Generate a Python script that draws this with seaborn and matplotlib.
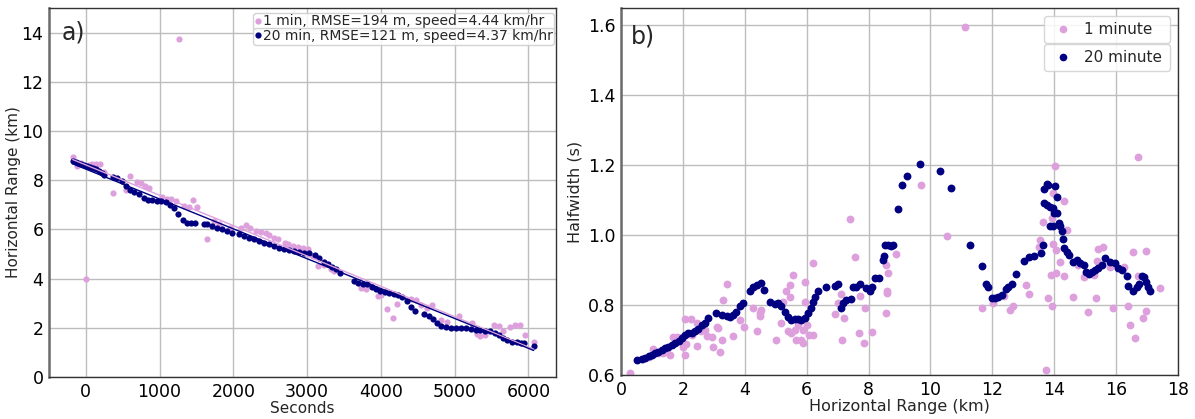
import numpy as np
import pandas as pd
import matplotlib
matplotlib.use("Agg")
import matplotlib.pyplot as plt
import seaborn as sns
from matplotlib.lines import Line2D

# ---------------- panel a) range vs time ----------------
t_1min = [-177, -114, -60, 0, 40, 82, 141, 186, 250, 368, 550, 605, 695, 741, 795, 850,
          1036, 1095, 1150, 1218, 1265, 1332, 1400, 1455, 1509, 1636, 1736, 1800, 1950,
          2100, 2168, 2227, 2305, 2373, 2441, 2486, 2555, 2600, 2694, 2739, 2806, 2874,
          2942, 3009, 3077, 3144, 3234, 3324, 3369, 3730, 3797, 3865, 3955, 4000, 4090,
          4158, 4216, 4405, 4473, 4541, 4631, 4698, 4811, 4901, 5059, 5239, 5306, 5351,
          5419, 5532, 5599, 5658, 5757, 5824, 5892, 5959, 6072]
r_1min = [8.95, 8.59, 8.70, 3.98, 8.62, 8.64, 8.64, 8.64, 8.35, 7.46, 7.62, 8.16, 7.92, 7.89,
          7.76, 7.69, 7.31, 7.24, 7.22, 7.15, 13.74, 6.95, 6.92, 7.19, 6.92, 5.59, 6.34, 6.20,
          6.05, 6.07, 6.16, 6.07, 5.93, 5.91, 5.84, 5.76, 5.66, 5.59, 5.46, 5.39, 5.32, 5.29,
          5.25, 5.21, 4.91, 4.50, 4.57, 4.37, 4.30, 3.62, 3.56, 3.69, 3.29, 3.35, 2.77, 2.40,
          2.95, 3.18, 3.13, 2.91, 2.81, 2.91, 2.31, 2.23, 2.50, 2.20, 1.74, 1.67, 1.71, 2.12,
          2.09, 1.89, 2.03, 2.12, 2.12, 1.71, 1.44]

t_20min = [-180, -140, -100, -60, -20, 20, 60, 100, 140, 180, 220, 245, 368, 423, 491, 550,
           605, 659, 723, 786, 841, 900, 960, 1014, 1082, 1141, 1195, 1255, 1318, 1373, 1432,
           1486, 1600, 1645, 1714, 1782, 1850, 1918, 1986, 2077, 2145, 2214, 2282, 2350, 2418,
           2486, 2555, 2623, 2691, 2759, 2827, 2895, 2960, 3032, 3108, 3167, 3225, 3279, 3333,
           3392, 3450, 3631, 3694, 3752, 3811, 3874, 3932, 3991, 4054, 4113, 4180, 4234, 4293,
           4351, 4405, 4464, 4586, 4653, 4712, 4766, 4811, 4878, 4946, 5014, 5081, 5149, 5216,
           5284, 5351, 5419, 5486, 5554, 5599, 5658, 5712, 5779, 5847, 5901, 5941, 6072]
r_20min = [8.77, 8.74, 8.70, 8.66, 8.62, 8.58, 8.54, 8.49, 8.44, 8.36, 8.28, 8.22, 8.12, 8.09,
           7.96, 7.78, 7.62, 7.51, 7.45, 7.27, 7.18, 7.18, 7.17, 7.15, 7.11, 7.01, 6.88, 6.64,
           6.38, 6.27, 6.27, 6.27, 6.23, 6.20, 6.14, 6.07, 6.00, 5.93, 5.86, 5.82, 5.73, 5.66,
           5.59, 5.53, 5.46, 5.39, 5.32, 5.26, 5.19, 5.15, 5.12, 5.08, 5.05, 5.03, 4.95, 4.85,
           4.68, 4.58, 4.49, 4.38, 4.24, 3.91, 3.84, 3.80, 3.77, 3.64, 3.57, 3.50, 3.46, 3.43,
           3.39, 3.34, 3.27, 3.09, 2.83, 2.67, 2.56, 2.46, 2.35, 2.19, 2.08, 2.05, 2.01, 1.99,
           1.99, 1.99, 1.96, 1.92, 1.92, 1.89, 1.88, 1.78, 1.71, 1.58, 1.51, 1.44, 1.41, 1.40,
           1.39, 1.27]

# linear fits: speed in km/hr, intercept (range at t=0) in km, rmse in m
speed_1min, r0_1min, rmse_1min = 4.44, 8.62, 194
speed_20min, r0_20min, rmse_20min = 4.37, 8.45, 121

# ---------------- panel b) halfwidth vs range ----------------
R_1min = [0.28, 0.90, 1.04, 1.20, 1.37, 1.50, 1.58, 1.69, 1.75, 1.80, 1.96, 2.01, 2.07, 2.07,
          2.10, 2.25, 2.30, 2.45, 2.47, 2.60, 2.72, 2.77, 2.93, 2.96, 3.09, 3.15, 3.20, 3.26,
          3.31, 3.44, 3.61, 3.85, 3.98, 4.28, 4.30, 4.39, 4.49, 4.49, 4.54, 5.02, 5.18, 5.24,
          5.34, 5.40, 5.45, 5.47, 5.50, 5.56, 5.61, 5.66, 5.72, 5.83, 5.88, 5.88, 5.93, 5.93,
          6.00, 6.04, 6.09, 6.20, 6.22, 6.90, 7.00, 7.11, 7.15, 7.22, 7.41, 7.57, 7.68, 7.73,
          7.86, 7.89, 8.11, 8.55, 8.56, 8.59, 8.60, 8.64, 8.90, 9.71, 10.52, 11.11, 11.68,
          12.03, 12.38, 12.57, 12.68, 13.08, 13.20, 13.52, 13.54, 13.63, 13.73, 13.81, 13.90,
          13.92, 13.92, 13.95, 13.97, 14.03, 14.05, 14.05, 14.19, 14.33, 14.33, 14.41, 14.62,
          14.78, 14.97, 15.08, 15.27, 15.36, 15.38, 15.43, 15.57, 15.81, 15.90, 16.24, 16.37,
          16.44, 16.53, 16.62, 16.70, 16.72, 16.87, 16.98, 16.97, 17.43]
hw_1min = [0.607, 0.652, 0.674, 0.662, 0.662, 0.675, 0.657, 0.710, 0.700, 0.708, 0.710, 0.681,
           0.760, 0.657, 0.690, 0.760, 0.715, 0.748, 0.683, 0.725, 0.729, 0.712, 0.708, 0.681,
           0.738, 0.734, 0.667, 0.700, 0.815, 0.860, 0.712, 0.756, 0.738, 0.791, 0.852, 0.726,
           0.777, 0.769, 0.786, 0.700, 0.748, 0.810, 0.839, 0.727, 0.858, 0.824, 0.719, 0.886,
           0.729, 0.700, 0.743, 0.700, 0.691, 0.729, 0.867, 0.810, 0.743, 0.777, 0.715, 0.920,
           0.715, 0.775, 0.805, 0.832, 0.700, 0.762, 1.047, 0.939, 0.719, 0.826, 0.691, 0.791,
           0.722, 0.915, 0.778, 0.834, 0.839, 0.891, 0.946, 1.144, 0.999, 1.597, 0.791, 0.805,
           0.826, 0.786, 0.798, 0.858, 0.831, 0.965, 0.985, 1.039, 0.614, 0.819, 0.886, 0.798,
           1.048, 0.975, 1.120, 1.199, 0.958, 0.893, 0.924, 0.883, 1.098, 1.015, 0.822, 0.915,
           0.880, 0.779, 0.886, 0.819, 0.926, 0.960, 0.967, 0.910, 0.791, 0.910, 0.798, 0.743,
           0.951, 0.707, 0.882, 1.223, 0.762, 0.783, 0.956, 0.848]

R_20min = [0.52, 0.68, 0.78, 0.89, 1.00, 1.10, 1.21, 1.32, 1.43, 1.53, 1.64, 1.75, 1.86, 1.96,
           2.07, 2.18, 2.29, 2.39, 2.50, 2.61, 2.71, 2.82, 3.07, 3.25, 3.41, 3.52, 3.63, 3.73,
           3.84, 3.93, 4.16, 4.27, 4.38, 4.51, 4.61, 4.81, 4.97, 5.08, 5.18, 5.29, 5.40, 5.50,
           5.61, 5.72, 5.83, 5.93, 6.04, 6.15, 6.22, 6.26, 6.38, 6.61, 6.90, 7.00, 7.11, 7.17,
           7.27, 7.44, 7.49, 7.60, 7.73, 7.92, 8.05, 8.11, 8.21, 8.35, 8.46, 8.49, 8.53, 8.64,
           8.74, 8.79, 8.95, 9.09, 9.24, 9.65, 10.30, 10.68, 11.27, 11.65, 11.79, 11.87, 11.98,
           12.08, 12.19, 12.30, 12.44, 12.52, 12.62, 12.76, 13.02, 13.20, 13.35, 13.56, 13.65,
           13.68, 13.76, 13.81, 14.01, 13.67, 13.76, 13.87, 13.95, 14.00, 14.08, 14.08, 13.87,
           13.97, 14.14, 14.19, 14.24, 14.28, 14.32, 14.41, 14.49, 14.60, 14.73, 14.84, 14.95,
           15.03, 15.11, 15.22, 15.32, 15.43, 15.54, 15.65, 15.81, 15.97, 16.05, 16.19, 16.35,
           16.40, 16.54, 16.67, 16.75, 16.84, 16.89, 16.97, 17.03, 17.11]
hw_20min = [0.643, 0.645, 0.650, 0.653, 0.656, 0.662, 0.667, 0.672, 0.676, 0.681, 0.686, 0.691,
            0.697, 0.705, 0.715, 0.719, 0.721, 0.726, 0.731, 0.743, 0.750, 0.762, 0.777, 0.772,
            0.769, 0.767, 0.772, 0.781, 0.796, 0.805, 0.839, 0.851, 0.858, 0.862, 0.843, 0.810,
            0.803, 0.805, 0.798, 0.781, 0.767, 0.758, 0.759, 0.759, 0.758, 0.762, 0.777, 0.791,
            0.810, 0.824, 0.839, 0.853, 0.856, 0.860, 0.791, 0.805, 0.815, 0.817, 0.853, 0.853,
            0.860, 0.848, 0.839, 0.853, 0.877, 0.877, 0.929, 0.941, 0.972, 0.972, 0.970, 0.972,
            1.075, 1.144, 1.168, 1.204, 1.184, 1.136, 0.972, 0.912, 0.860, 0.853, 0.819, 0.819,
            0.824, 0.829, 0.847, 0.853, 0.860, 0.888, 0.927, 0.937, 0.941, 0.948, 0.972, 1.131,
            1.146, 1.144, 1.141, 1.091, 1.087, 1.082, 1.077, 1.063, 1.063, 1.108, 1.027, 1.025,
            1.036, 1.025, 1.013, 0.989, 0.963, 0.953, 0.944, 0.924, 0.929, 0.920, 0.915, 0.896,
            0.889, 0.896, 0.899, 0.905, 0.915, 0.934, 0.924, 0.920, 0.905, 0.901, 0.882, 0.855,
            0.841, 0.853, 0.860, 0.882, 0.880, 0.867, 0.853, 0.839]

c_1min = "#DDA0DD"
c_20min = "#000080"

sns.set_theme(style="white")
plt.rcParams["font.family"] = ["DejaVu Sans"]

fig = plt.figure(figsize=(11.95, 4.19), dpi=100)
ax1 = fig.add_axes([49 / 1195, 1 - 377 / 419, 507 / 1195, 369 / 419])
ax2 = fig.add_axes([621 / 1195, 1 - 375 / 419, 557 / 1195, 367 / 419])

df_a1 = pd.DataFrame({"t": t_1min, "r": r_1min})
df_a20 = pd.DataFrame({"t": t_20min, "r": r_20min})
df_b1 = pd.DataFrame({"R": R_1min, "hw": hw_1min})
df_b20 = pd.DataFrame({"R": R_20min, "hw": hw_20min})


def style_axes(ax):
    ax.grid(True, color="#bdbdbd", linewidth=1.0)
    ax.set_axisbelow(True)
    for name, sp in ax.spines.items():
        sp.set_visible(True)
        sp.set_color("#333333")
        sp.set_linewidth(1.0)
    ax.spines["left"].set_color("#6b6b6b")
    ax.spines["left"].set_linewidth(1.8)
    ax.tick_params(axis="both", labelsize=12.5, length=2, width=0.8, pad=2,
                   colors="#222222", labelcolor="black")


def stacked_legends(ax, handles, labels, x0, width, tops, heights, **kw):
    """Each entry gets its own framed box, stacked top to bottom, equal width."""
    for i, (h, lab, top, hgt) in enumerate(zip(handles, labels, tops, heights)):
        leg = ax.legend(handles=[h], labels=[lab], loc="upper left", mode="expand",
                        bbox_to_anchor=(x0, top - hgt, width, hgt), **kw)
        if i < len(handles) - 1:
            ax.add_artist(leg)


# ---- panel a
sns.scatterplot(data=df_a1, x="t", y="r", ax=ax1, color=c_1min, s=20,
                linewidth=0, zorder=2, legend=False)
sns.scatterplot(data=df_a20, x="t", y="r", ax=ax1, color=c_20min, s=20,
                linewidth=0, zorder=3, legend=False)

t1 = np.array([min(t_1min), max(t_1min)], dtype=float)
t20 = np.array([min(t_20min), max(t_20min)], dtype=float)
ax1.plot(t1, r0_1min - speed_1min / 3600.0 * t1, color=c_1min, lw=1.0, zorder=4)
ax1.plot(t20, r0_20min - speed_20min / 3600.0 * t20, color=c_20min, lw=1.0, zorder=4)

ax1.set_xlim(-500, 6375)
ax1.set_ylim(0, 15)
ax1.set_xticks([0, 1000, 2000, 3000, 4000, 5000, 6000])
ax1.set_yticks([0, 2, 4, 6, 8, 10, 12, 14])
style_axes(ax1)
ax1.set_xlabel("Seconds", fontsize=11, labelpad=0)
ax1.set_ylabel("Horizontal Range (km)", fontsize=11, labelpad=0)
ax1.text(0.024, 0.965, "a)", transform=ax1.transAxes, fontsize=17, va="top", ha="left")

lab1 = f"1 min, RMSE={rmse_1min} m, speed={speed_1min:.2f} km/hr"
lab20 = f"20 min, RMSE={rmse_20min} m, speed={speed_20min:.2f} km/hr"
h1 = Line2D([], [], ls="none", marker="o", ms=4.5, mew=0, color=c_1min)
h20 = Line2D([], [], ls="none", marker="o", ms=4.5, mew=0, color=c_20min)
stacked_legends(ax1, [h1, h20], [lab1, lab20], x0=0.402, width=0.594,
                tops=[0.987, 0.947], heights=[0.04, 0.04],
                fontsize=10, handlelength=0.45, handletextpad=0.15, borderpad=0.12,
                borderaxespad=0, frameon=True, edgecolor="#cccccc", fancybox=True,
                framealpha=0.85)

# ---- panel b
sns.scatterplot(data=df_b1, x="R", y="hw", ax=ax2, color=c_1min, s=32,
                linewidth=0, zorder=2, legend=False)
sns.scatterplot(data=df_b20, x="R", y="hw", ax=ax2, color=c_20min, s=32,
                linewidth=0, zorder=3, legend=False)
ax2.set_xlim(0, 18)
ax2.set_ylim(0.6, 1.65)
ax2.set_xticks(list(range(0, 19, 2)))
ax2.set_yticks([0.6, 0.8, 1.0, 1.2, 1.4, 1.6])
ax2.set_yticklabels(["0.6", "0.8", "1.0", "1.2", "1.4", "1.6"])
style_axes(ax2)
ax2.set_xlabel("Horizontal Range (km)", fontsize=11.5, labelpad=0)
ax2.set_ylabel("Halfwidth (s)", fontsize=11.5, labelpad=4)
ax2.text(0.018, 0.955, "b)", transform=ax2.transAxes, fontsize=17, va="top", ha="left")

g1 = Line2D([], [], ls="none", marker="o", ms=5.5, mew=0, color=c_1min)
g20 = Line2D([], [], ls="none", marker="o", ms=5.5, mew=0, color=c_20min)
stacked_legends(ax2, [g1, g20], ["1 minute", "20 minute"], x0=0.760, width=0.226,
                tops=[0.978, 0.902], heights=[0.074, 0.074],
                fontsize=11, handlelength=1.6, handletextpad=0.6, borderpad=0.4,
                borderaxespad=0, frameon=True, edgecolor="#d0d0d0", fancybox=True,
                framealpha=0.85)

fig.savefig("out.png", dpi=100)
